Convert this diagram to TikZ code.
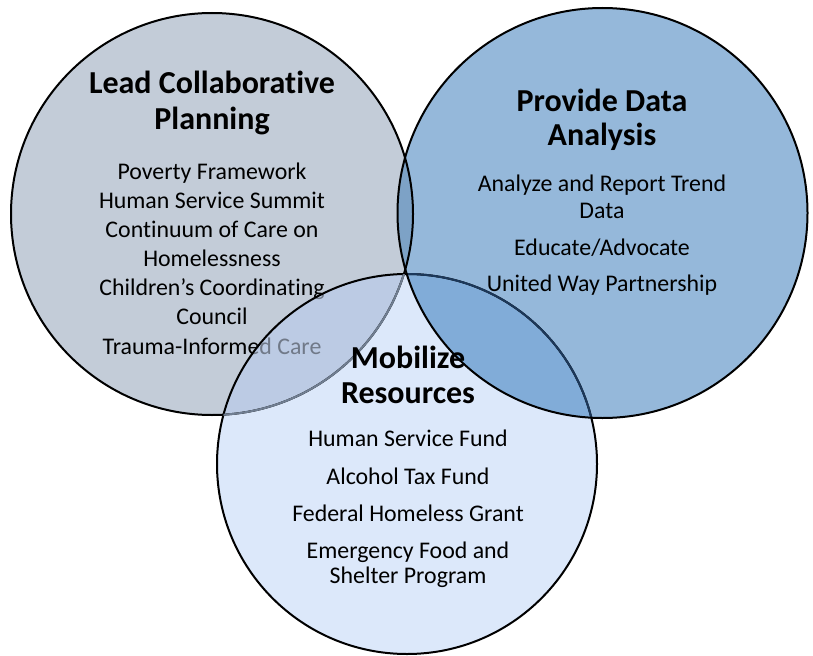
\documentclass[tikz,border=0pt]{standalone}
\usepackage{fontspec}
\setmainfont{Carlito}[RawFeature=-liga]
\definecolor{lcol}{RGB}{195,204,216}
\definecolor{rcol}{RGB}{149,184,218}
\definecolor{bcol}{RGB}{220,232,250}
\definecolor{lrcol}{RGB}{125,162,198}
\definecolor{lbcol}{RGB}{188,203,228}
\definecolor{rbcol}{RGB}{129,172,216}
\definecolor{lrbcol}{RGB}{120,160,205}
\definecolor{faintline}{RGB}{112,126,145}
\definecolor{navyline}{RGB}{28,56,90}
\begin{document}
\begin{tikzpicture}[x=0.75pt,y=-0.75pt,
  ttl/.style={font=\fontsize{24}{28}\selectfont\bfseries, text height=1.5ex, text depth=.3ex, inner sep=0pt, yshift=-3.75pt},
  itm/.style={font=\fontsize{17.9}{21}\selectfont, text height=1.5ex, text depth=.3ex, inner sep=0pt, yshift=-3.75pt},
  ring/.style={line width=1.5pt, draw=black}]
\useasboundingbox (0,0) rectangle (813,656);
\coordinate (cl) at (212,214);
\coordinate (cr) at (602.5,213);
\coordinate (cb) at (407,464);
% base fills
\fill[lcol] (cl) circle (201);
\fill[rcol] (cr) circle (205);
\fill[bcol] (cb) circle (190);
\begin{scope}\clip (cl) circle (201); \fill[lrcol] (cr) circle (205); \end{scope}
\begin{scope}\clip (cl) circle (201); \fill[lbcol] (cb) circle (190); \end{scope}
\begin{scope}\clip (cr) circle (205); \fill[rbcol] (cb) circle (190); \end{scope}
% left texts
\node[ttl] (l1) at (212,85) {Lead Collaborative};
\node[ttl] (l2) at (212,121) {Planning};
\node[itm] (li1) at (212,171) {Poverty Framework};
\node[itm] (li2) at (212,200) {Human Service Summit};
\node[itm] (li3) at (212,229) {Continuum of Care on};
\node[itm] (li4) at (212,258) {Homelessness};
\node[itm] (li5) at (212,287) {Children’s Coordinating};
\node[itm] (li6) at (212,316) {Council};
\node[itm] (li7) at (212,346) {Trauma-Informed Care};
% fade under the bottom circle
\begin{scope}\clip (cb) circle (190); \fill[lbcol, fill opacity=0.6] (cl) circle (201); \end{scope}
\begin{scope}\clip (cl) circle (201); \clip (cr) circle (205); \fill[lrbcol] (cb) circle (190); \end{scope}
% outlines
\draw[ring] (cl) circle (201);
\draw[ring] (cb) circle (190);
\begin{scope}\clip (cb) circle (190); \draw[line width=1.5pt, faintline] (cl) circle (201); \end{scope}
\begin{scope}\clip (cr) circle (205); \draw[line width=1.5pt, navyline] (cb) circle (190); \end{scope}
\draw[ring] (cr) circle (205);
% right texts
\node[ttl] (r1) at (602,103) {Provide Data};
\node[ttl] (r2) at (602,137) {Analysis};
\node[itm] (ri1) at (602,183) {Analyze and Report Trend};
\node[itm] (ri2) at (602,210) {Data};
\node[itm] (ri3) at (602,247) {Educate/Advocate};
\node[itm] (ri4) at (602,283) {United Way Partnership};
% bottom texts
\node[ttl] (b1) at (408,360) {Mobilize};
\node[ttl] (b2) at (408,395) {Resources};
\node[itm] (bi1) at (408,438) {Human Service Fund};
\node[itm] (bi2) at (408,476) {Alcohol Tax Fund};
\node[itm] (bi3) at (408,513) {Federal Homeless Grant};
\node[itm] (bi4) at (408,550) {Emergency Food and};
\node[itm] (bi5) at (408,575) {Shelter Program};
\end{tikzpicture}
\end{document}
